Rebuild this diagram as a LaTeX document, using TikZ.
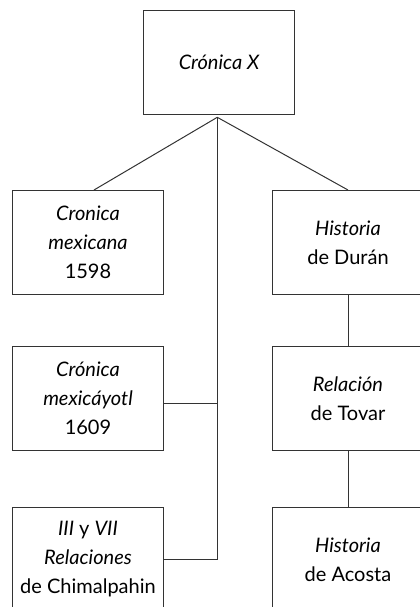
\documentclass[tikz,border=0pt]{standalone}
\usepackage{fontspec}
\setmainfont{Lato}
\usetikzlibrary{positioning}
\tikzset{>=stealth}
\tikzset{
  srcbox/.style={draw=black!80,line width=0.5pt,minimum width=75.25pt,minimum height=51.8pt,
    align=center,font=\fontsize{10pt}{14.5pt}\selectfont,inner sep=0pt},
  link/.style={draw=black!80,line width=0.5pt}
}
\begin{document}
\begin{tikzpicture}[x=0.5pt,y=0.5pt]
\useasboundingbox (0,0) rectangle (419,607);
\node[srcbox] (cronx) at (219.2,544.5) {\textit{Crónica X}};
\node[srcbox] (cmex) at (88,364.7) {\textit{Cronica}\\\textit{mexicana}\\1598};
\node[srcbox] (cmexy) at (88,208.7) {\textit{Crónica}\\\textit{mexicáyotl}\\1609};
\node[srcbox] (chimal) at (88,47.7) {\textit{III} y \textit{VII}\\\textit{Relaciones}\\de Chimalpahin};
\node[srcbox] (duran) at (348,364.7) {\textit{Historia}\\de Durán};
\node[srcbox] (tovar) at (348,208.7) {\textit{Relación}\\de Tovar};
\node[srcbox] (acosta) at (348,47.7) {\textit{Historia}\\de Acosta};
\coordinate (split) at (217.3,489.7);
% branches
\draw[link] (split) -- ([xshift=3pt]cmex.north);
\draw[link] (split) -- (duran.north);
\draw[link] (split) -- (split |- chimal.east) -- (chimal.east);
\draw[link] ([yshift=-2.5pt]cmexy.east) -- ([yshift=-2.5pt]cmexy.east -| split);
\draw[link] (duran) -- (tovar);
\draw[link] (tovar) -- (acosta);
\end{tikzpicture}
\end{document}
